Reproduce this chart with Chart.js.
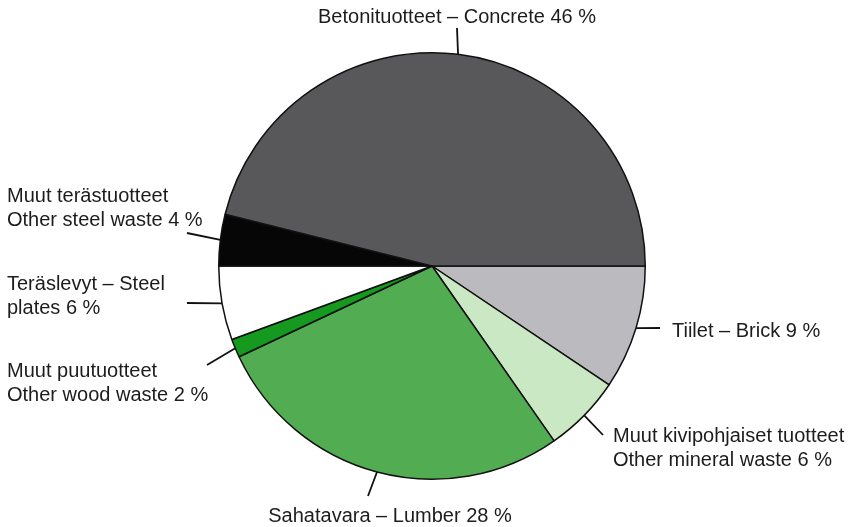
<!DOCTYPE html>
<html>
<head>
<meta charset="utf-8">
<script src="https://cdn.jsdelivr.net/npm/chart.js@4/dist/chart.umd.min.js"></script>
<style>
html,body{margin:0;padding:0;background:#fff;}
#wrap{width:856px;height:527px;position:relative;}
</style>
</head>
<body>
<div id="wrap"><canvas id="c" width="856" height="527"></canvas></div>
<script>
// Categories, clockwise from 3 o'clock
const categories = [
  ["Tiilet – Brick 9 %"],
  ["Muut kivipohjaiset tuotteet", "Other mineral waste 6 %"],
  ["Sahatavara – Lumber 28 %"],
  ["Muut puutuotteet", "Other wood waste 2 %"],
  ["Teräslevyt – Steel", "plates 6 %"],
  ["Muut terästuotteet", "Other steel waste 4 %"],
  ["Betonituotteet – Concrete 46 %"]
];
const shares = [9.4, 5.9, 27.7, 1.4, 5.6, 3.9, 46.1];
const colors = ["#bbbbbf", "#cbe8c4", "#52ad52", "#159a1f", "#ffffff", "#060606", "#58585b"];

// label layout: text anchor (baseline), alignment, leader outer end
const labelLayout = [
  {tx: 672, ty: 337, align: "left", lx: 660, ly: 328},
  {tx: 613, ty: 442, align: "left", lx: 603, ly: 435},
  {tx: 390, ty: 522, align: "center", lx: 368, ly: 496},
  {tx: 7, ty: 377, align: "left", lx: 207, ly: 365},
  {tx: 7, ty: 290, align: "left", lx: 187, ly: 303},
  {tx: 7, ty: 202, align: "left", lx: 187, ly: 233},
  {tx: 457, ty: 23, align: "center", lx: 457, ly: 28}
];

const labelPlugin = {
  id: 'labels',
  afterDraw(chart) {
    const ctx = chart.ctx;
    const meta = chart.getDatasetMeta(0);
    ctx.save();
    ctx.font = '20px "Liberation Sans", Arial, sans-serif';
    ctx.fillStyle = '#1c1c1c';
    ctx.strokeStyle = '#111';
    ctx.lineWidth = 1.8;
    ctx.textBaseline = 'alphabetic';
    meta.data.forEach((arc, i) => {
      const p = arc.getProps(['x','y','startAngle','endAngle','outerRadius'], true);
      const mid = (p.startAngle + p.endAngle) / 2;
      const ix = p.x + Math.cos(mid) * p.outerRadius;
      const iy = p.y + Math.sin(mid) * p.outerRadius;
      const L = labelLayout[i];
      ctx.beginPath();
      ctx.moveTo(L.lx, L.ly);
      ctx.lineTo(ix, iy);
      ctx.stroke();
      ctx.textAlign = L.align;
      categories[i].forEach((line, k) => {
        ctx.fillText(line, L.tx, L.ty + k * 23.5);
      });
    });
    ctx.restore();
  }
};

new Chart(document.getElementById('c'), {
  type: 'pie',
  data: {
    labels: categories.map(c => c.join(' ')),
    datasets: [{
      data: shares,
      backgroundColor: colors,
      borderColor: '#111',
      borderWidth: 1.5
    }]
  },
  options: {
    responsive: false,
    animation: false,
    rotation: 90,
    layout: {padding: {left: 218, right: 210, top: 52, bottom: 47}},
    plugins: {legend: {display: false}, tooltip: {enabled: false}}
  },
  plugins: [labelPlugin]
});
</script>
</body>
</html>
